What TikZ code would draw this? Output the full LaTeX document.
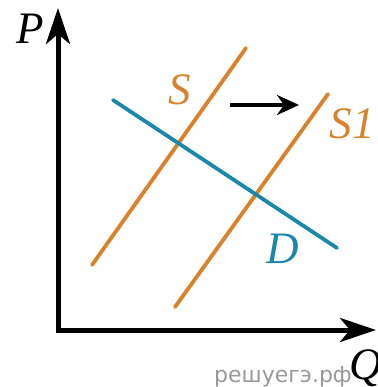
\documentclass[tikz,border=0pt]{standalone}
\usepackage{fontspec}
\setmainfont{Liberation Serif}
\newfontfamily\wmfont{DejaVu Sans}
\usetikzlibrary{arrows.meta}
\definecolor{sorange}{HTML}{D9822B}
\definecolor{dblue}{HTML}{1B87AB}
\begin{document}
\begin{tikzpicture}[x=1pt,y=-1pt,
  axis/.style={line width=5pt,-{Stealth[length=36pt,width=24pt,inset=10pt]}},
  curve/.style={line width=3.8pt,line cap=round},
  lab/.style={font=\fontsize{45}{45}\selectfont\itshape,inner sep=0pt},
  shiftarrow/.style={line width=3.5pt,-{Stealth[length=22pt,width=20pt,inset=7pt]}}]
\useasboundingbox (0,0) rectangle (377,387);
% watermark
\node[anchor=base west,inner sep=0pt,text=black!40,font=\wmfont\fontsize{22}{22}\selectfont] (wm) at (214,382) {решуегэ.рф};
% axes
\coordinate (O) at (58,330);
\coordinate (Ptop) at (58,8);
\coordinate (Qend) at (376,330);
\draw[axis] (58,332.5) -- (Ptop);
\draw[axis] (55.5,330) -- (Qend);
% curves
\coordinate (S0) at (92,265);
\coordinate (S1e) at (246,48);
\coordinate (T0) at (175,307);
\coordinate (T1) at (328,94);
\coordinate (D0) at (113,100);
\coordinate (D1) at (337,248);
\draw[curve,sorange] (S0) -- (S1e);
\draw[curve,sorange] (T0) -- (T1);
\draw[curve,dblue] (D0) -- (D1);
% shift arrow
\coordinate (A0) at (230,105);
\coordinate (A1) at (299,105);
\draw[shiftarrow] (A0) -- (A1);
% labels
\node[lab] (P) at (30,29) {P};
\node[lab,anchor=west] (Q) at (349,368) {Q};
\node[lab,text=sorange] (S) at (180,90) {S};
\node[lab,text=sorange] (Sone) at (352,124) {S1};
\node[lab,text=dblue] (D) at (283,249) {D};
\end{tikzpicture}
\end{document}
